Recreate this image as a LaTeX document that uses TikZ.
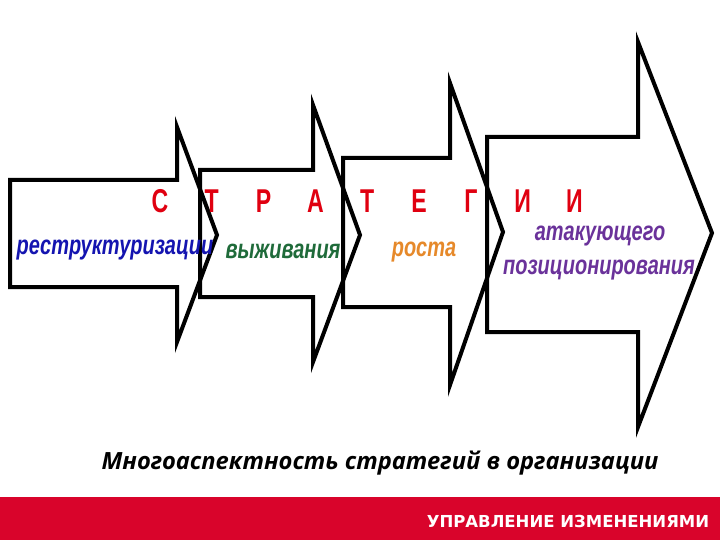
\documentclass[tikz,border=0pt]{standalone}
\usepackage{fontspec}
\newfontfamily\arrowfont[FakeStretch=0.74]{Liberation Sans}
\newfontfamily\letterfont[FakeStretch=0.7]{Liberation Sans}
\newfontfamily\capfont{Open Sans}
\newfontfamily\barfont{DejaVu Sans}
\definecolor{stratred}{HTML}{E00010}
\definecolor{restblue}{HTML}{1414B0}
\definecolor{survgreen}{HTML}{1F6B3A}
\definecolor{groworange}{HTML}{E6892A}
\definecolor{attackpurple}{HTML}{6A329A}
\definecolor{barred}{HTML}{D9042B}
\tikzset{
  arrowline/.style={draw=black, line width=4pt, line join=miter},
  kindtext/.style={inner sep=0pt, font=\arrowfont\bfseries\itshape\fontsize{27}{28}\selectfont},
  redletter/.style={inner sep=0pt, text=stratred, font=\letterfont\bfseries\fontsize{33}{33}\selectfont}
}
\begin{document}
\begin{tikzpicture}[x=1pt, y=-1pt]
    \useasboundingbox (0,0) rectangle (720,540);
    % four arrows: left/body top/body bottom/shaft end/head top/head bottom/tip x/tip y
    \foreach \l/\bt/\bb/\s/\ht/\hb/\tx/\ty in {10/180/287/177/127/342/217/235,
                                                200/170/297/313/105/362/360/235,
                                                343/158/307/450/83/385/503/232,
                                                487/137/332/638/42/427/712/233}
      \draw[arrowline] (\l,\bt) -- (\s,\bt) -- (\s,\ht) -- (\tx,\ty)
                       -- (\s,\hb) -- (\s,\bb) -- (\l,\bb) -- cycle;
    % spaced title letters
    \foreach \ch [count=\i] in {С,Т,Р,А,Т,Е,Г,И,И}
      \node[redletter] (letter\i) at ({160+51.8*(\i-1)},201) {\ch};
    \node[kindtext, text=restblue] (restr) at (115,250) {реструктуризации};
    \node[kindtext, text=survgreen] (surv) at (283,251) {выживания};
    \node[kindtext, text=groworange] (grow) at (424,252) {роста};
    \node[kindtext, text=attackpurple] (attack) at (600,236) {атакующего};
    \node[kindtext, text=attackpurple] (posit) at (599,270) {позиционирования};
    \node[inner sep=0pt, font=\capfont\bfseries\itshape\fontsize{23.7}{24}\selectfont] (caption) at (380,463)
      {Многоаспектность стратегий в организации};
    % footer bar
    \fill[barred] (0,497) rectangle (720,540);
    \node[inner sep=0pt, text=white, font=\barfont\bfseries\fontsize{16.5}{17}\selectfont] (footer) at (568,521)
      {УПРАВЛЕНИЕ ИЗМЕНЕНИЯМИ};
\end{tikzpicture}
\end{document}
